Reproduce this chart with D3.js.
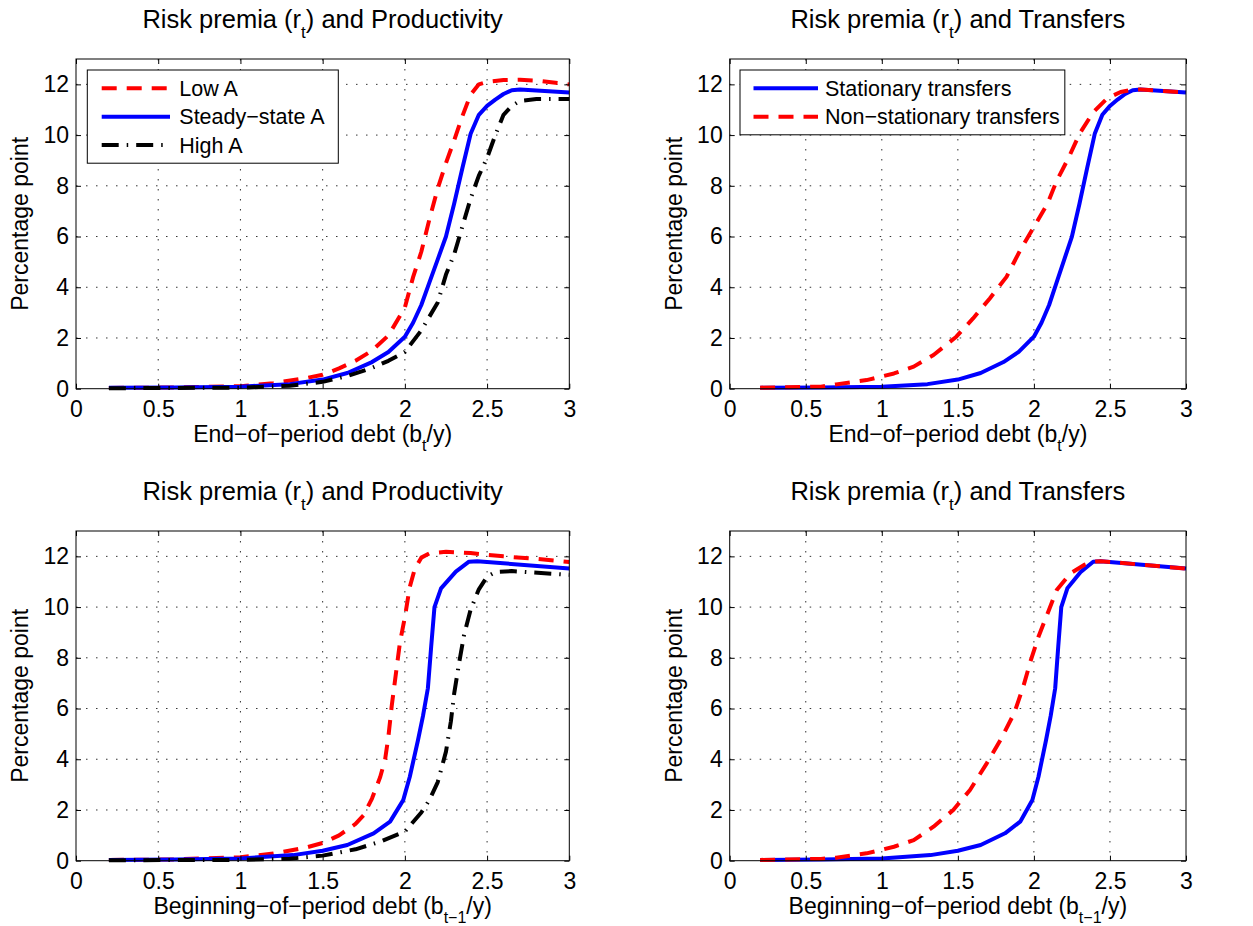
<!DOCTYPE html>
<html>
<head>
<meta charset="utf-8">
<script src="https://cdn.jsdelivr.net/npm/d3@7"></script>
<style>
  body { margin: 0; background: #fff; }
  svg text { font-family: "Liberation Sans", Arial, Helvetica, sans-serif; fill: #000; }
</style>
</head>
<body>
<div id="chart"></div>
<script>
// ---- data (x = debt / y, y = risk premium in pp) ----

// end-of-period debt, productivity panel
const endLowX    = [0.2, 0.6, 1.0, 1.2, 1.4, 1.5, 1.6, 1.7, 1.8, 1.9, 2.0, 2.05, 2.1, 2.15, 2.2, 2.25, 2.3, 2.35, 2.4, 2.45, 2.5, 2.6, 2.7, 2.8, 3.0];
const endLowY    = [0.03, 0.05, 0.1, 0.22, 0.42, 0.55, 0.8, 1.1, 1.5, 2.1, 3.2, 4.4, 5.4, 6.7, 7.9, 8.9, 9.8, 10.75, 11.6, 12.0, 12.1, 12.17, 12.18, 12.15, 12.0];

const endSteadyX = [0.2, 0.6, 1.0, 1.3, 1.5, 1.65, 1.8, 1.9, 2.0, 2.05, 2.1, 2.15, 2.2, 2.25, 2.3, 2.35, 2.4, 2.45, 2.5, 2.55, 2.6, 2.65, 2.7, 3.0];
const endSteadyY = [0.04, 0.05, 0.08, 0.18, 0.36, 0.62, 1.05, 1.45, 2.05, 2.6, 3.3, 4.2, 5.1, 6.0, 7.3, 8.7, 10.05, 10.8, 11.15, 11.4, 11.62, 11.77, 11.8, 11.68];

const endHighX   = [0.2, 1.0, 1.3, 1.5, 1.65, 1.8, 1.9, 2.0, 2.1, 2.2, 2.25, 2.3, 2.35, 2.4, 2.45, 2.5, 2.55, 2.6, 2.65, 2.7, 2.8, 3.0];
const endHighY   = [0.02, 0.04, 0.12, 0.27, 0.5, 0.82, 1.1, 1.45, 2.3, 3.4, 4.5, 5.3, 6.4, 7.5, 8.4, 9.1, 10.0, 10.8, 11.15, 11.35, 11.42, 11.42];

// end-of-period debt, transfers panel (stationary = steady-state curve)
const endNonStatX = [0.2, 0.6, 0.7, 0.9, 1.08, 1.21, 1.34, 1.49, 1.6, 1.71, 1.82, 1.91, 2.0, 2.09, 2.15, 2.23, 2.3, 2.39, 2.48, 2.57, 2.66, 2.7, 3.0];
const endNonStatY = [0.04, 0.08, 0.17, 0.34, 0.6, 0.87, 1.33, 2.05, 2.77, 3.56, 4.41, 5.46, 6.38, 7.3, 8.2, 9.13, 10.05, 10.9, 11.44, 11.7, 11.8, 11.8, 11.68];

// beginning-of-period debt, productivity panel
const begLowX    = [0.2, 0.6, 1.0, 1.2, 1.4, 1.5, 1.6, 1.7, 1.75, 1.8, 1.85, 1.88, 1.9, 1.92, 1.95, 1.97, 2.0, 2.03, 2.06, 2.1, 2.15, 2.25, 2.4, 2.6, 2.8, 3.0];
const begLowY    = [0.03, 0.05, 0.14, 0.28, 0.52, 0.7, 1.0, 1.45, 1.8, 2.45, 3.3, 4.0, 4.9, 6.1, 7.6, 8.6, 9.6, 10.8, 11.5, 11.95, 12.12, 12.18, 12.13, 12.0, 11.9, 11.78];

const begSteadyX = [0.2, 0.6, 1.0, 1.32, 1.5, 1.65, 1.81, 1.91, 1.99, 2.03, 2.08, 2.11, 2.14, 2.16, 2.18, 2.22, 2.31, 2.39, 2.44, 3.0];
const begSteadyY = [0.03, 0.05, 0.09, 0.22, 0.39, 0.62, 1.08, 1.54, 2.39, 3.31, 4.76, 5.7, 6.8, 8.44, 10.0, 10.74, 11.4, 11.79, 11.81, 11.52];

const begHighX   = [0.2, 1.0, 1.3, 1.5, 1.7, 1.85, 2.0, 2.1, 2.15, 2.2, 2.25, 2.28, 2.3, 2.33, 2.36, 2.4, 2.45, 2.5, 2.55, 2.65, 3.0];
const begHighY   = [0.02, 0.03, 0.08, 0.2, 0.45, 0.75, 1.15, 1.9, 2.4, 3.1, 4.3, 5.5, 6.6, 7.8, 8.9, 9.9, 10.7, 11.2, 11.38, 11.42, 11.27];

// beginning-of-period debt, transfers panel
const begNonStatX = [0.2, 0.6, 0.7, 0.9, 1.08, 1.21, 1.34, 1.47, 1.58, 1.69, 1.78, 1.87, 1.93, 1.98, 2.03, 2.09, 2.15, 2.24, 2.33, 2.39, 2.44, 3.0];
const begNonStatY = [0.03, 0.07, 0.12, 0.29, 0.55, 0.81, 1.34, 2.0, 2.79, 3.84, 4.76, 5.81, 6.86, 7.91, 8.83, 9.75, 10.67, 11.33, 11.66, 11.79, 11.81, 11.52];

const xTicks = [0, 0.5, 1, 1.5, 2, 2.5, 3];
const yTicks = [0, 2, 4, 6, 8, 10, 12];

// ---- styles ----
const styles = {
  red:   { color: "#ff0000", dash: "15,10" },
  blue:  { color: "#0000ff", dash: null },
  black: { color: "#000000", dash: "17,8,1.5,8" }
};

const FONT = 23;      // ticks and axis labels
const LEGEND = 21.5;  // legend text
const TITLE = 25.5;   // titles

const W = 1253, H = 926;
const svg = d3.select("#chart").append("svg")
  .attr("width", W)
  .attr("height", H);

// text with a subscript piece; the part after the subscript goes back to the baseline
function richText(sel, parts, subSize, subShift) {
  let shift = 0;
  parts.forEach(p => {
    const ts = sel.append("tspan");
    if (p.sub) {
      ts.attr("dy", subShift).style("font-size", subSize + "px").text(p.sub);
      shift = subShift;
    } else {
      if (shift) ts.attr("dy", -shift);
      shift = 0;
      ts.text(p.t);
    }
  });
}

function drawPanel(cfg) {
  const g = svg.append("g").attr("transform", `translate(${cfg.left},${cfg.top})`);
  const w = cfg.width, h = cfg.height;

  const x = d3.scaleLinear().domain([0, 3]).range([0, w]);
  const y = d3.scaleLinear().domain([0, 13]).range([h, 0]);

  // dotted grid
  g.append("g").selectAll("line")
    .data(xTicks.slice(1, -1)).enter().append("line")
    .attr("x1", d => x(d)).attr("x2", d => x(d))
    .attr("y1", 0).attr("y2", h)
    .attr("stroke", "#333").attr("stroke-width", 1)
    .attr("stroke-dasharray", "1.5,8.5");
  g.append("g").selectAll("line")
    .data(yTicks.slice(1)).enter().append("line")
    .attr("x1", 0).attr("x2", w)
    .attr("y1", d => y(d)).attr("y2", d => y(d))
    .attr("stroke", "#333").attr("stroke-width", 1)
    .attr("stroke-dasharray", "1.5,8.5");

  const line = d3.line().x(d => x(d[0])).y(d => y(d[1]));

  cfg.series.forEach(s => {
    const st = styles[s.style];
    g.append("path")
      .datum(d3.zip(s.xs, s.ys))
      .attr("d", line)
      .attr("fill", "none")
      .attr("stroke", st.color)
      .attr("stroke-width", 4)
      .attr("stroke-linejoin", "round")
      .attr("stroke-dasharray", st.dash);
  });

  // axes, ticks inside on all four sides
  const fmt = d => String(d);
  const bottom = g.append("g").attr("transform", `translate(0,${h})`)
    .call(d3.axisBottom(x).tickValues(xTicks).tickFormat(fmt).tickSizeInner(-5).tickSizeOuter(0).tickPadding(11.7));
  const left = g.append("g")
    .call(d3.axisLeft(y).tickValues(yTicks).tickFormat(fmt).tickSizeInner(-5).tickSizeOuter(0).tickPadding(7));
  g.append("g")
    .call(d3.axisTop(x).tickValues(xTicks).tickFormat("").tickSizeInner(-5).tickSizeOuter(0));
  g.append("g").attr("transform", `translate(${w},0)`)
    .call(d3.axisRight(y).tickValues(yTicks).tickFormat("").tickSizeInner(-5).tickSizeOuter(0));
  g.selectAll(".domain").remove();
  g.selectAll(".tick line").attr("stroke", "#000");
  [bottom, left].forEach(a => a.selectAll("text")
    .style("font-size", FONT + "px")
    .style("font-family", '"Liberation Sans", Arial, Helvetica, sans-serif')
    .attr("fill", "#000"));

  g.append("rect")
    .attr("width", w).attr("height", h)
    .attr("fill", "none").attr("stroke", "#000").attr("stroke-width", 1);

  // title
  const t = g.append("text")
    .attr("x", w / 2).attr("y", -31)
    .attr("text-anchor", "middle")
    .style("font-size", TITLE + "px");
  richText(t, cfg.title, 17, 10);

  // x label
  const xl = g.append("text")
    .attr("x", w / 2).attr("y", h + 53)
    .attr("text-anchor", "middle")
    .style("font-size", FONT + "px");
  richText(xl, cfg.xlabel, 16, 9);

  // y label
  g.append("text")
    .attr("transform", `translate(-48,${h / 2}) rotate(-90)`)
    .attr("text-anchor", "middle")
    .style("font-size", FONT + "px")
    .text("Percentage point");

  // legend
  if (cfg.legend) {
    const L = cfg.legend;
    const lg = g.append("g").attr("transform", `translate(${L.x},${L.y})`);
    const box = lg.append("rect")
      .attr("fill", "#fff").attr("stroke", "#000").attr("stroke-width", 1);
    let maxW = 0;
    L.items.forEach((it, i) => {
      const st = styles[it.style];
      const cy = 18.3 + i * 28.4;
      lg.append("line")
        .attr("x1", L.l0).attr("x2", L.l1)
        .attr("y1", cy).attr("y2", cy)
        .attr("stroke", st.color).attr("stroke-width", 4)
        .attr("stroke-dasharray", st.dash);
      const tx = lg.append("text")
        .attr("x", L.tx).attr("y", cy).attr("dy", "0.35em")
        .style("font-size", LEGEND + "px")
        .text(it.label);
      maxW = Math.max(maxW, tx.node().getComputedTextLength());
    });
    box.attr("width", Math.max(L.w, L.tx + maxW + 5)).attr("height", 8 + L.items.length * 28.4);
  }
}

const titleProd = [{ t: "Risk premia (r" }, { sub: "t" }, { t: ") and Productivity" }];
const titleTrans = [{ t: "Risk premia (r" }, { sub: "t" }, { t: ") and Transfers" }];
const xlabEnd = [{ t: "End\u2212of\u2212period debt (b" }, { sub: "t" }, { t: "/y)" }];
const xlabBeg = [{ t: "Beginning\u2212of\u2212period debt (b" }, { sub: "t\u22121" }, { t: "/y)" }];

drawPanel({
  left: 76, top: 59, width: 493.3, height: 329.7,
  title: titleProd, xlabel: xlabEnd,
  series: [
    { xs: endLowX, ys: endLowY, style: "red" },
    { xs: endSteadyX, ys: endSteadyY, style: "blue" },
    { xs: endHighX, ys: endHighY, style: "black" }
  ],
  legend: { x: 11.3, y: 11, w: 251, l0: 14.4, l1: 82.7, tx: 92, items: [
    { label: "Low A", style: "red" },
    { label: "Steady\u2212state A", style: "blue" },
    { label: "High A", style: "black" }
  ] }
});

drawPanel({
  left: 729.7, top: 59, width: 456.3, height: 329.7,
  title: titleTrans, xlabel: xlabEnd,
  series: [
    { xs: endSteadyX, ys: endSteadyY, style: "blue" },
    { xs: endNonStatX, ys: endNonStatY, style: "red" }
  ],
  legend: { x: 10.3, y: 11, w: 318, l0: 13.5, l1: 78, tx: 85, items: [
    { label: "Stationary transfers", style: "blue" },
    { label: "Non\u2212stationary transfers", style: "red" }
  ] }
});

drawPanel({
  left: 76, top: 531, width: 493.3, height: 329.7,
  title: titleProd, xlabel: xlabBeg,
  series: [
    { xs: begLowX, ys: begLowY, style: "red" },
    { xs: begSteadyX, ys: begSteadyY, style: "blue" },
    { xs: begHighX, ys: begHighY, style: "black" }
  ]
});

drawPanel({
  left: 729.7, top: 531, width: 456.3, height: 329.7,
  title: titleTrans, xlabel: xlabBeg,
  series: [
    { xs: begSteadyX, ys: begSteadyY, style: "blue" },
    { xs: begNonStatX, ys: begNonStatY, style: "red" }
  ]
});
</script>
</body>
</html>
